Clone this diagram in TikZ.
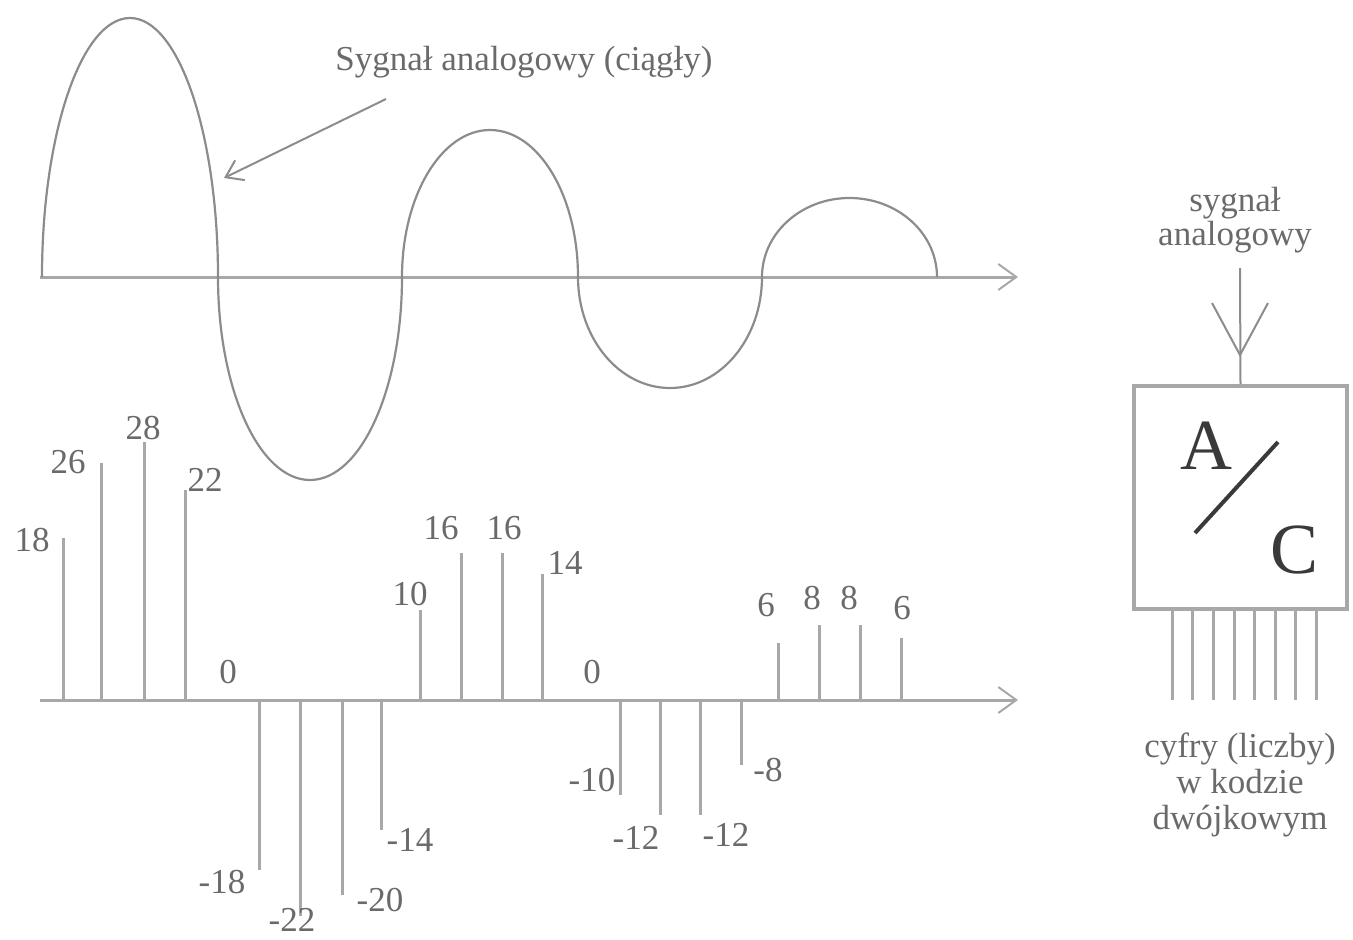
\documentclass[tikz,border=0pt]{standalone}
\usepackage{fontspec}
\setmainfont{Liberation Serif}
\usetikzlibrary{arrows.meta,calc}
\definecolor{txt}{HTML}{6A6A6A}
\definecolor{ln}{HTML}{A8A8A8}
\definecolor{wave}{HTML}{8C8C8C}
\definecolor{dark}{HTML}{3A3A3A}
\tikzset{
  lbl/.style={text=txt,font=\fontsize{35}{40}\selectfont,inner sep=0pt,align=center},
  axisline/.style={draw=ln,line width=3pt,-{Straight Barb[length=18pt,width=26pt,line width=2pt]}},
  stem/.style={draw=ln,line width=3pt},
  wavel/.style={draw=wave,line width=2.2pt},
  pointer/.style={draw=wave,line width=2pt,-{Straight Barb[length=16pt,width=22pt,line width=2pt]}},
}
\begin{document}
\begin{tikzpicture}[x=1pt,y=-1pt]
\useasboundingbox (0,0) rectangle (1353,940);
% upper axis and waveform
\coordinate (ua0) at (40,277);
\coordinate (ua1) at (1018,277);
\draw[axisline] (ua0) -- (ua1);
\draw[wavel] (42,277)
  arc[start angle=180,end angle=360,x radius=88,y radius=259]
  arc[start angle=180,end angle=0,x radius=92,y radius=203]
  arc[start angle=180,end angle=360,x radius=88,y radius=147]
  arc[start angle=180,end angle=0,x radius=92,y radius=111]
  arc[start angle=180,end angle=360,x radius=87.5,y radius=79];
\node[lbl] (sig) at (524,62) {Sygnał analogowy (ciągły)};
\coordinate (sigtip) at (224,178);
\draw[pointer] (386,99) -- (sigtip);
% lower axis and samples
\coordinate (la0) at (40,700);
\coordinate (la1) at (1018,700);
\draw[axisline] (la0) -- (la1);
\foreach \x/\yt/\t/\lx/\ly in {
  63/538/18/32/540, 101/463/26/68/462, 144/442/28/143/428, 185/490/22/205/480,
  259/870/-18/222/882, 300/916/-22/292/920, 342/895/-20/380/900, 381/830/-14/410/840,
  420/610/10/410/594, 461/553/16/441/528, 502/553/16/504/528, 542/574/14/565/563,
  620/795/-10/592/780, 660/815/-12/636/838, 700/815/-12/726/835, 741/765/-8/768/770,
  778/643/6/766/605, 819/625/8/812/598, 860/625/8/849/598, 901/638/6/902/608}{
  \draw[stem] (\x,700) -- (\x,\yt);
  \node[lbl] at (\lx,\ly) {\t};
}
\node[lbl] (z1) at (228,672) {0};
\node[lbl] (z2) at (592,672) {0};
% A/C converter
\node[lbl] (in) at (1235,220) {sygnał\\[-6pt]analogowy};
\node[draw=ln,line width=4pt,minimum width=213pt,minimum height=223pt,inner sep=0pt] (ac) at (1240.5,497.5) {};
\coordinate (instart) at (1240,268);
\draw[draw=wave,line width=2pt] (instart) -- (ac.north);
\coordinate (vtip) at (1240,355);
\draw[draw=wave,line width=2pt] ($(vtip)+(-28,-52)$) -- (vtip) -- ($(vtip)+(28,-52)$);
\node[text=dark,font=\fontsize{72}{72}\selectfont,inner sep=0pt] (A) at (1206,446) {A};
\node[text=dark,font=\fontsize{72}{72}\selectfont,inner sep=0pt] (C) at (1294,550) {C};
\draw[draw=dark,line width=4pt] (1195,533) -- (1278,442);
\foreach \x in {1172,1192.5,1213,1234,1254.5,1275,1295.5,1316}{
  \draw[stem] (\x,611) -- (\x,700);
}
\node[lbl] (out) at (1240,785) {cyfry (liczby)\\[-4pt]w kodzie\\[-4pt]dwójkowym};
\end{tikzpicture}
\end{document}
